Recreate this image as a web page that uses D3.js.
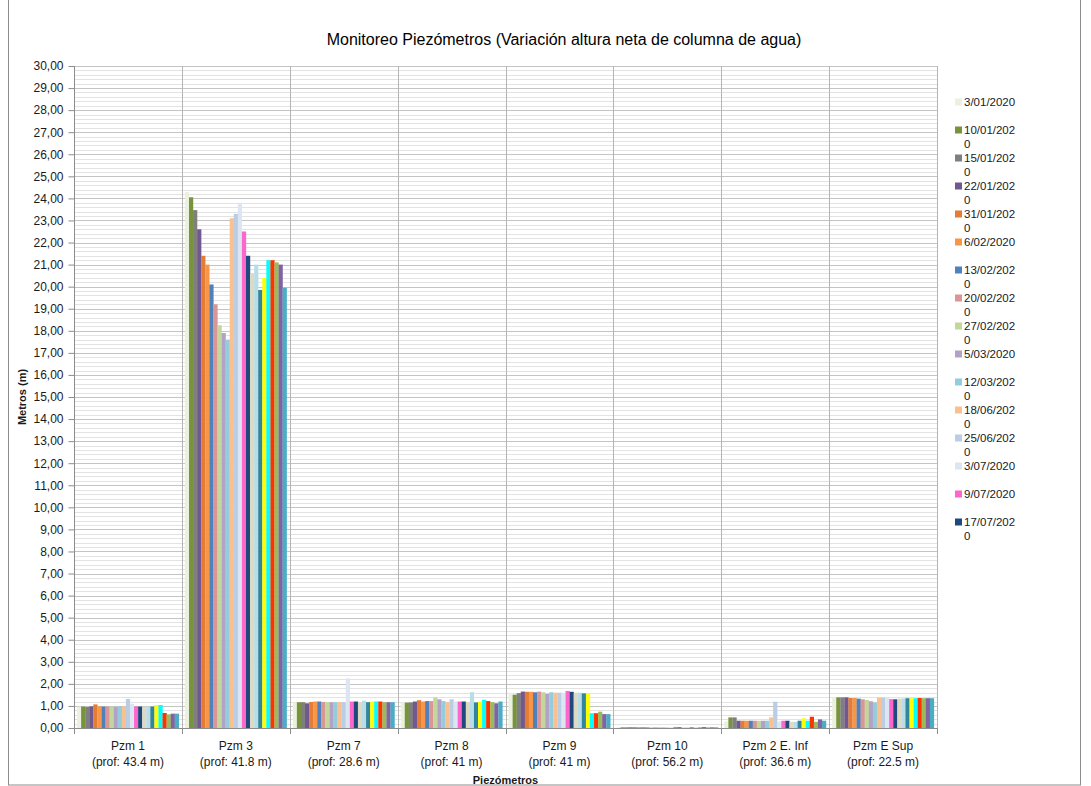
<!DOCTYPE html>
<html>
<head>
<meta charset="utf-8">
<script src="https://cdn.jsdelivr.net/npm/d3@7"></script>
<style>
  html, body { margin: 0; padding: 0; background: #fff; }
  text { font-family: "Liberation Sans", Arial, sans-serif; fill: #1a1a1a; }
</style>
</head>
<body>
<svg id="chart" width="1091" height="786"></svg>
<script>
// ---------- DATA ----------
const categories = ["Pzm 1", "Pzm 3", "Pzm 7", "Pzm 8", "Pzm 9", "Pzm 10", "Pzm 2 E. Inf", "Pzm E Sup"];
const depths = ["(prof: 43.4 m)", "(prof: 41.8 m)", "(prof: 28.6 m)", "(prof: 41 m)", "(prof: 41 m)", "(prof: 56.2 m)", "(prof: 36.6 m)", "(prof: 22.5 m)"];

const seriesDates = [
  "3/01/2020", "10/01/2020", "15/01/2020", "22/01/2020", "31/01/2020", "6/02/2020",
  "13/02/2020", "20/02/2020", "27/02/2020", "5/03/2020", "12/03/2020", "18/06/2020",
  "25/06/2020", "3/07/2020", "9/07/2020", "17/07/2020", "24/07/2020", "31/07/2020",
  "7/08/2020", "14/08/2020", "21/08/2020", "28/08/2020", "4/09/2020", "11/09/2020", "18/09/2020"
];

// values per piezometer, one per date (series order above)
const pzm1   = [0.97, 0.97, 0.95, 0.98, 1.07, 0.98, 0.97, 0.97, 0.97, 0.95, 0.98, 0.98, 1.32, 1.10, 0.98, 0.97, 0.97, 0.97, 0.97, 1.04, 1.04, 0.68, 0.62, 0.65, 0.65];
const pzm3   = [24.3, 24.05, 23.47, 22.6, 21.4, 21.0, 20.1, 19.2, 18.25, 17.9, 17.6, 23.1, 23.3, 23.8, 22.5, 21.4, 20.6, 21.0, 19.85, 20.4, 21.2, 21.2, 21.1, 21.0, 19.95];
const pzm7   = [1.17, 1.17, 1.17, 1.12, 1.18, 1.20, 1.20, 1.18, 1.17, 1.17, 1.17, 1.17, 1.17, 2.25, 1.20, 1.20, 1.17, 1.24, 1.17, 1.20, 1.20, 1.20, 1.17, 1.17, 1.17];
const pzm8   = [1.16, 1.15, 1.16, 1.20, 1.26, 1.20, 1.22, 1.22, 1.39, 1.30, 1.22, 1.17, 1.30, 1.20, 1.20, 1.20, 1.18, 1.62, 1.16, 1.20, 1.28, 1.22, 1.17, 1.12, 1.20];
const pzm9   = [1.60, 1.51, 1.58, 1.65, 1.64, 1.64, 1.62, 1.65, 1.62, 1.55, 1.62, 1.60, 1.60, 1.60, 1.68, 1.64, 1.60, 1.60, 1.57, 1.57, 0.67, 0.67, 0.74, 0.63, 0.63];
const pzm10  = [0.03, 0.03, 0.03, 0.03, 0.04, 0.04, 0.03, 0.04, 0.03, 0.03, 0.03, 0.04, 0.03, 0.03, 0.05, 0.03, 0.03, 0.03, 0.03, 0.04, 0.04, 0.04, 0.03, 0.03, 0.03];
const pzm2EI = [0.30, 0.48, 0.48, 0.33, 0.33, 0.33, 0.33, 0.33, 0.33, 0.33, 0.33, 0.48, 1.19, 0.30, 0.33, 0.33, 0.28, 0.28, 0.33, 0.44, 0.33, 0.51, 0.28, 0.39, 0.33];
const pzmES  = [1.39, 1.39, 1.39, 1.39, 1.36, 1.36, 1.33, 1.30, 1.27, 1.21, 1.16, 1.38, 1.38, 1.36, 1.31, 1.30, 1.33, 1.34, 1.35, 1.35, 1.35, 1.36, 1.35, 1.35, 1.35];

const yTicks = d3.range(0, 31, 1);

// ---------- STYLE ----------
const seriesColors = [
  "#EBF1DE", "#77933C", "#7F7F7F", "#71588F", "#E37D35", "#F79646",
  "#4F81BD", "#D99694", "#C3D69B", "#B3A2C7", "#93CDDD", "#FAC090",
  "#B9CDE5", "#DCE6F2", "#FF66CC", "#1F497D", "#DDD9C3", "#B7DEE8",
  "#31859C", "#FFFF00", "#00FFFF", "#FF3300", "#9BBB59", "#8064A2", "#4BACC6"
];

const table = [pzm1, pzm3, pzm7, pzm8, pzm9, pzm10, pzm2EI, pzmES].map((vals, i) => ({
  cat: categories[i], depth: depths[i], values: vals
}));

const svg = d3.select("#chart");
const plot = { left: 74, right: 937, top: 66, bottom: 728 };

// outer frame
svg.append("rect").attr("x", 8.5).attr("y", -1).attr("width", 1072).attr("height", 786)
  .attr("fill", "none").attr("stroke", "#8c8c8c").attr("stroke-width", 1);

const x0 = d3.scaleBand().domain(categories).range([plot.left, plot.right]).paddingInner(0).paddingOuter(0);
const x1 = d3.scaleBand().domain(d3.range(seriesDates.length)).range([0, x0.bandwidth()])
  .paddingInner(0).paddingOuter(0.75);
const y = d3.scaleLinear().domain([0, 30]).range([plot.bottom, plot.top]);

// minor gridlines
const minor = d3.range(0, 30.001, 0.2).filter(v => Math.abs(v - Math.round(v)) > 1e-6);
svg.append("g").selectAll("line").data(minor).join("line")
  .attr("x1", plot.left).attr("x2", plot.right)
  .attr("y1", d => Math.round(y(d)) + 0.5).attr("y2", d => Math.round(y(d)) + 0.5)
  .attr("stroke", "#e3e3e3").attr("stroke-width", 1);
// major gridlines
svg.append("g").selectAll("line").data(yTicks.slice(1)).join("line")
  .attr("x1", plot.left).attr("x2", plot.right)
  .attr("y1", d => Math.round(y(d)) + 0.5).attr("y2", d => Math.round(y(d)) + 0.5)
  .attr("stroke", "#c4c4c4").attr("stroke-width", 1);
// vertical category gridlines
const bounds = categories.map(c => x0(c)).concat([plot.right]);
svg.append("g").selectAll("line").data(bounds.slice(1)).join("line")
  .attr("x1", d => Math.round(d) + 0.5).attr("x2", d => Math.round(d) + 0.5)
  .attr("y1", plot.top).attr("y2", plot.bottom)
  .attr("stroke", "#b5b5b5").attr("stroke-width", 1);

// bars
const groups = svg.append("g").selectAll("g").data(table).join("g")
  .attr("transform", d => `translate(${x0(d.cat)},0)`);
groups.selectAll("rect").data(d => d.values.map((v, i) => ({ v, i }))).join("rect")
  .attr("x", d => x1(d.i))
  .attr("width", x1.bandwidth() + 0.15)
  .attr("y", d => y(d.v))
  .attr("height", d => y(0) - y(d.v))
  .attr("fill", d => seriesColors[d.i]);

// y axis
const yAxis = d3.axisLeft(y).tickValues(yTicks).tickSize(6).tickPadding(5)
  .tickFormat(d => d3.format(".2f")(d).replace(".", ","));
const gy = svg.append("g").attr("transform", `translate(${plot.left + 0.5},0)`).call(yAxis);
gy.select(".domain").attr("stroke", "#8c8c8c").attr("d", `M0,${plot.top}V${plot.bottom}`);
gy.selectAll(".tick line").attr("stroke", "#8c8c8c");
gy.selectAll(".tick text").attr("font-size", "12px").attr("fill", "#1a1a1a")
  .style("font-family", "'Liberation Sans', Arial, sans-serif");

// x axis line + boundary ticks
svg.append("line").attr("x1", plot.left).attr("x2", plot.right)
  .attr("y1", plot.bottom + 0.5).attr("y2", plot.bottom + 0.5).attr("stroke", "#8c8c8c");
svg.append("g").selectAll("line").data(bounds).join("line")
  .attr("x1", d => Math.round(d) + 0.5).attr("x2", d => Math.round(d) + 0.5)
  .attr("y1", plot.bottom).attr("y2", plot.bottom + 6).attr("stroke", "#8c8c8c");

// x labels
const xl = svg.append("g").selectAll("text").data(table).join("text")
  .attr("text-anchor", "middle").attr("font-size", "12px")
  .attr("x", d => x0(d.cat) + x0.bandwidth() / 2);
xl.append("tspan").attr("x", d => x0(d.cat) + x0.bandwidth() / 2).attr("y", 750).text(d => d.cat);
xl.append("tspan").attr("x", d => x0(d.cat) + x0.bandwidth() / 2).attr("y", 766).text(d => d.depth);

// axis titles
svg.append("text").attr("x", (plot.left + plot.right) / 2).attr("y", 784)
  .attr("text-anchor", "middle").attr("font-size", "11px").attr("font-weight", "bold").text("Piezómetros");
svg.append("text").attr("transform", `translate(26,${(plot.top + plot.bottom) / 2}) rotate(-90)`)
  .attr("text-anchor", "middle").attr("font-size", "11px").attr("font-weight", "bold").text("Metros (m)");

// title
svg.append("text").attr("x", 564).attr("y", 45).attr("text-anchor", "middle")
  .attr("font-size", "16px").style("fill", "#000")
  .text("Monitoreo Piezómetros (Variación altura neta de columna de agua)");

// legend (only entries that fit are visible, as in the reference)
const legendTop = 102, legendStep = 28, legendMaxY = 545;
const leg = svg.append("g");
seriesDates.forEach((lab, i) => {
  const cy = legendTop + i * legendStep;
  if (cy > legendMaxY) return;
  leg.append("rect").attr("x", 955).attr("y", cy - 3.5).attr("width", 7).attr("height", 7)
    .attr("fill", seriesColors[i]);
  const lines = lab.length > 9 ? [lab.slice(0, 9), lab.slice(9)] : [lab];
  const t = leg.append("text").attr("font-size", "11.5px");
  lines.forEach((ln, k) => {
    t.append("tspan").attr("x", 964).attr("y", cy + 4 + k * 14).text(ln);
  });
});
</script>
</body>
</html>
